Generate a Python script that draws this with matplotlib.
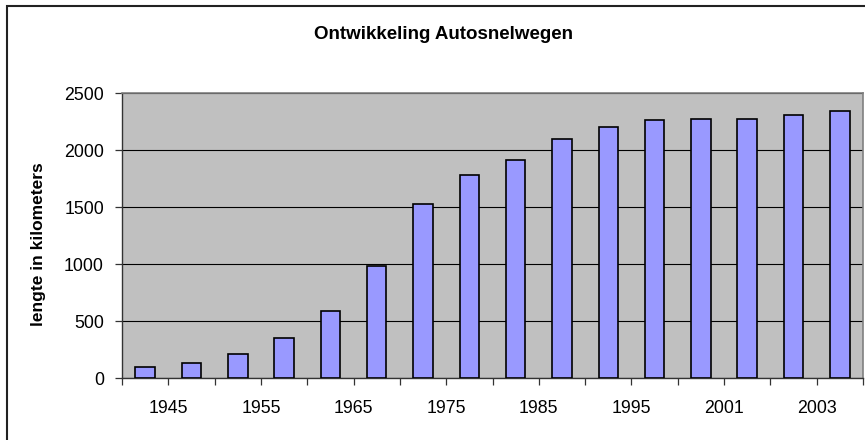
import matplotlib
matplotlib.use("Agg")
import matplotlib.pyplot as plt
from matplotlib.patches import Rectangle
import numpy as np

years = ["1945", "1950", "1955", "1960", "1965", "1970", "1975", "1980",
         "1985", "1990", "1995", "2000", "2001", "2002", "2003", "2004"]
length_km = [100, 130, 210, 355, 590, 985, 1530, 1785,
             1910, 2095, 2205, 2260, 2275, 2275, 2305, 2345]

plt.rcParams["font.family"] = ["Liberation Sans", "DejaVu Sans"]

fig = plt.figure(figsize=(8.65, 4.4), dpi=100)
ax = fig.add_axes([122 / 865, 62 / 440, 741 / 865, 285 / 440])

x = np.arange(len(years))
ax.set_facecolor("#c0c0c0")
ax.bar(x, length_km, width=0.42, color="#9999ff", edgecolor="black",
       linewidth=1.2, zorder=3)

ax.set_xlim(-0.5, len(years) - 0.5)
ax.set_ylim(0, 2500)
ax.set_yticks(range(0, 2501, 500))
ax.yaxis.grid(True, color="black", linewidth=0.8, zorder=1)

# ticks on the category boundaries, labels on every other category pair
ax.xaxis.remove_overlapping_locs = False
ax.set_xticks(np.arange(-0.5, len(years), 1.0))
ax.set_xticklabels([])
ax.set_xticks(x[::2] + 0.5, minor=True)
ax.set_xticklabels(years[::2], minor=True)
ax.tick_params(axis="x", which="major", direction="out", length=5,
               width=0.9, color="#333333")
ax.tick_params(axis="x", which="minor", length=0, pad=16, labelsize=12.8)
ax.tick_params(axis="y", direction="out", length=5, width=0.9,
               color="#333333", pad=8, labelsize=12.8)

for side in ["top", "right"]:
    ax.spines[side].set_color("#808080")
    ax.spines[side].set_linewidth(1.2)
for side in ["left", "bottom"]:
    ax.spines[side].set_color("#333333")
    ax.spines[side].set_linewidth(1.0)

fig.text(443.5 / 865, 1 - 39 / 440, "Ontwikkeling Autosnelwegen",
         ha="center", va="baseline", fontsize=13.5, fontweight="bold")
fig.text(39 / 865, 1 - 244.5 / 440, "lengte in kilometers", rotation=90,
         ha="center", va="center", fontsize=12.5, fontweight="bold")

# chart border, cut off at the right and bottom like the screenshot
fig.add_artist(Rectangle((7 / 865, -0.1), 1.0, 1 - 6 / 440 + 0.1,
                         transform=fig.transFigure, fill=False,
                         edgecolor="#222222", linewidth=1.5, clip_on=False))

fig.savefig("out.png", dpi=100)
